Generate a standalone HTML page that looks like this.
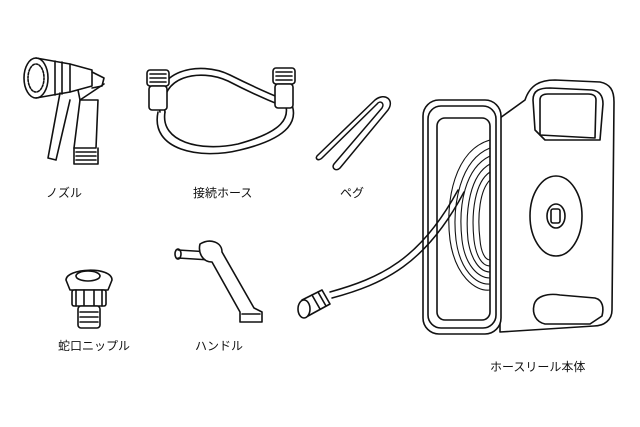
<!DOCTYPE html>
<html><head><meta charset="utf-8"><style>
html,body{margin:0;padding:0;background:#fff;width:640px;height:427px;overflow:hidden}
svg{display:block}
text{font-family:"Liberation Sans","Noto Sans CJK JP",sans-serif;font-size:12px;fill:#111;stroke:none}
</style></head><body>
<svg width="640" height="427" viewBox="0 0 640 427" fill="none" stroke="#111" stroke-width="1.6" stroke-linejoin="round" stroke-linecap="round">
<!-- Nozzle -->
<g>
<ellipse cx="36" cy="78" rx="12" ry="20" fill="#fff"/>
<ellipse cx="36" cy="78" rx="8" ry="14" stroke-dasharray="2 1.5"/>
<path d="M36 58 L70 64 L92 70 L92 86 L70 92 L36 98"/>
<path d="M55 61 L55 95 M62 62 L62 94 M70 64 L70 92"/>
<path d="M92 72 L104 78 L102 86 L92 88"/>
<path d="M60 93 L48 158 L56 160 L70 100"/>
<path d="M78 90 L80 100 L86 96 L98 88 L104 84"/>
<path d="M80 100 L74 148 L96 148 L98 100 Z" fill="#fff"/>
<path d="M74 148 L74 164 L98 164 L98 148"/>
<path d="M76 152 L96 152 M76 156 L96 156 M76 160 L96 160"/>
</g>
<text x="46" y="197">ノズル</text>
<!-- Connection hose -->
<g>
<path d="M158 112 C 150 150, 200 160, 240 150 C 290 138, 300 120, 290 100"/>
<path d="M165 112 C 160 142, 200 152, 238 144 C 282 132, 292 118, 284 100"/>
<path d="M160 112 C 150 70, 200 60, 230 75 C 260 90, 285 100, 285 100" />
<path d="M165 112 C 158 76, 200 68, 228 81 C 255 95, 280 105, 280 105"/>
<rect x="147" y="70" width="22" height="16" rx="3" fill="#fff"/>
<rect x="149" y="86" width="18" height="24" rx="3" fill="#fff"/>
<path d="M150 74 L166 74 M150 78 L166 78 M150 82 L166 82"/>
<rect x="273" y="68" width="22" height="16" rx="3" fill="#fff"/>
<rect x="275" y="84" width="18" height="24" rx="3" fill="#fff"/>
<path d="M276 72 L292 72 M276 76 L292 76 M276 80 L292 80"/>
</g>
<text x="193" y="197">接続ホース</text>
<!-- Peg -->
<g stroke-width="1.5">
<path d="M318 155 L375 100 C 385 92, 395 100, 388 110 L340 168 C 336 172, 331 168, 334 164 L382 108 C 385 103, 380 100, 377 104 L322 158 C 318 162, 314 158, 318 155 Z"/>
</g>
<text x="340" y="197">ペグ</text>
<!-- Faucet nipple -->
<g>
<path d="M66 280 C 66 268, 112 266, 112 280 L108 290 L70 290 Z" fill="#fff"/>
<ellipse cx="88" cy="276" rx="12" ry="5"/>
<rect x="72" y="290" width="34" height="16" rx="2" fill="#fff"/>
<path d="M76 290 L76 306 M84 290 L84 306 M94 290 L94 306 M102 290 L102 306"/>
<rect x="78" y="306" width="22" height="22" rx="3" fill="#fff"/>
<path d="M80 312 L98 312 M80 317 L98 317 M80 322 L98 322"/>
</g>
<text x="58" y="350">蛇口ニップル</text>
<!-- Handle -->
<g>
<path d="M178 250 L210 252 M178 258 L210 260"/>
<ellipse cx="178" cy="254" rx="3" ry="5"/>
<path d="M200 244 C 210 238, 222 242, 222 252 L254 308 L262 312 L262 322 L240 322 L240 312 L212 262 C 202 262, 198 252, 200 244 Z" fill="#fff"/>
<path d="M242 314 L260 314"/>
</g>
<text x="195" y="350">ハンドル</text>
<!-- Reel body -->
<g>
<path d="M500 118 L525 100 C 530 85, 540 80, 555 80 L600 82 C 610 84, 614 90, 614 102 L612 310 C 612 320, 604 326, 594 326 L500 332 Z" fill="#fff"/>
<path d="M533 100 C 533 90, 540 88, 550 88 L592 90 C 600 91, 603 96, 603 104 L600 140 L545 140 L535 130 Z"/>
<path d="M540 100 L540 135 L595 138 L596 100 C 596 96, 593 94, 588 94 L548 94 C 543 94, 540 96, 540 100 Z"/>
<path d="M534 305 C 536 296, 548 293, 560 295 L595 298 C 603 300, 604 308, 602 316 L590 324 L545 324 C 536 322, 532 314, 534 305 Z"/>
<ellipse cx="556" cy="216" rx="26" ry="40"/>
<ellipse cx="556" cy="216" rx="9" ry="12"/>
<rect x="551" y="209" width="9" height="14" rx="2"/>
<rect x="423" y="100" width="78" height="234" rx="16" fill="#fff"/>
<rect x="428" y="106" width="68" height="222" rx="13"/>
<rect x="437" y="118" width="53" height="202" rx="8"/>
<g stroke-width="1.1">
<path d="M490 140 C 455 150, 445 200, 450 240 C 455 275, 475 292, 490 290"/>
<path d="M490 148 C 460 160, 452 205, 456 240 C 460 270, 476 285, 490 284"/>
<path d="M490 156 C 465 168, 458 205, 462 240 C 465 265, 478 278, 490 278"/>
<path d="M490 164 C 470 175, 465 210, 468 240 C 471 260, 480 272, 490 272"/>
<path d="M490 172 C 475 182, 471 212, 474 240 C 476 256, 482 266, 490 266"/>
<path d="M490 180 C 480 190, 477 215, 480 240 C 481 252, 485 260, 490 260"/>
</g>
</g>
<!-- Reel hose + connector -->
<path d="M330 292 C 380 278, 420 260, 458 190" stroke-width="1.5"/>
<path d="M332 298 C 384 284, 426 264, 464 192" stroke-width="1.5"/>
<path d="M302 300 L322 290 L330 304 L308 316 Z" fill="#fff"/>
<ellipse cx="304" cy="309" rx="6" ry="9" fill="#fff"/>
<path d="M318 292 L326 306 M312 295 L320 309"/>
<text x="490" y="371">ホースリール本体</text>
</svg>
</body></html>
